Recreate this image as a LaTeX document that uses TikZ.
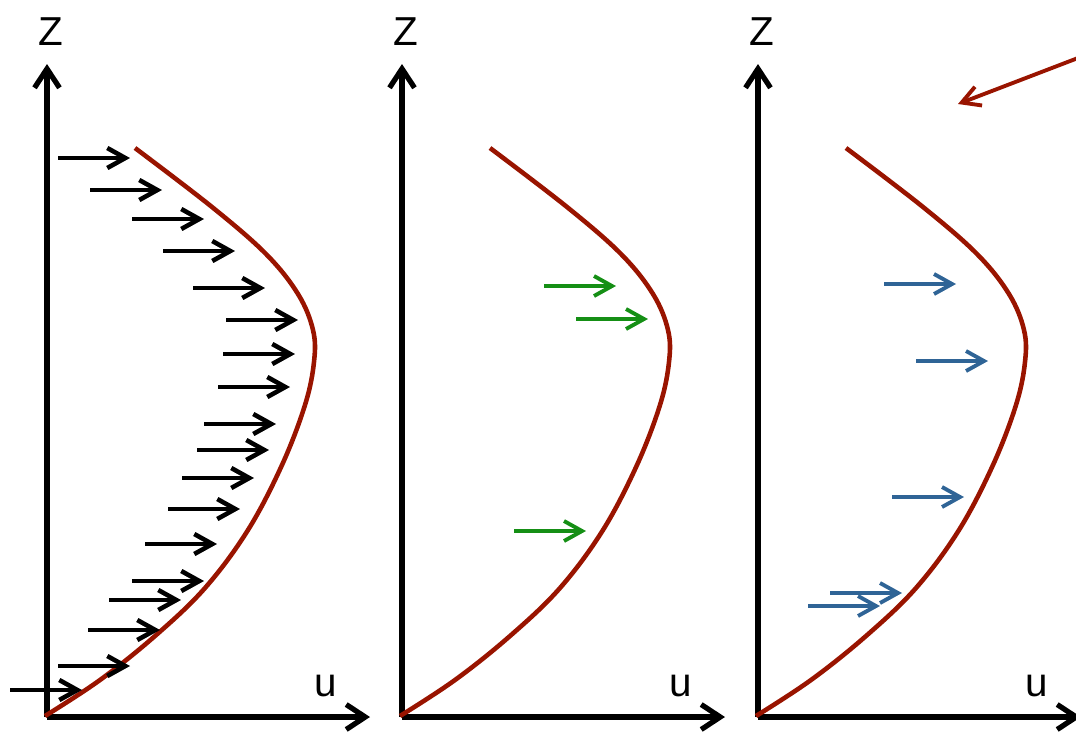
\documentclass[tikz,border=0pt]{standalone}
\usepackage{fontspec}
\setmainfont{Liberation Sans}
\usepackage{xcolor}
\usetikzlibrary{arrows.meta}
\definecolor{profile}{HTML}{991400}

\begin{document}
\begin{tikzpicture}[
    x=0.02cm, y=-0.02cm,
    axis/.style={line width=3pt, -{Straight Barb[length=3.8mm, width=5mm]}},
    curve/.style={draw=profile, line width=2.6pt},
    vel/.style={line width=2.6pt, -{Straight Barb[length=3.6mm, width=4mm]}},
    lab/.style={font=\fontsize{23}{25}\selectfont, inner sep=0pt},
  ]
  \definecolor{cGreen}{HTML}{158F15}\definecolor{cBlue}{HTML}{2F6496}
  \useasboundingbox (0,0) rectangle (1076,734);

  \foreach \i/\dx in {1/0, 2/355, 3/711} {
    \begin{scope}[shift={(\dx,0)}]
      \coordinate (o\i) at (47,717);
      \coordinate (z\i) at (47,64);
      \coordinate (u\i) at (370,717);
      \draw[axis] (o\i) -- (z\i);
      \draw[axis] (o\i) -- (u\i);
      \node[lab] (zl\i) at (51,32) {Z};
      \node[lab] (ul\i) at (326,686) {u};
      \draw[curve] plot[smooth, tension=0.6] coordinates {
        (135,148) (212,207) (266,254) (298,294) (313,330) (314,362)
        (305,405) (282,465) (248,530) (205,588) (155,636) (100,680) (45,716)};
    \end{scope}
  }

  \foreach \y/\xa in {158/58, 190/90, 219/132, 251/163, 288/193, 320/226,
                      354/223, 387/218, 424/204, 450/197, 478/182, 509/168,
                      544/145, 581/132, 600/109, 630/88, 666/58, 690/10} {
    \draw[vel] (\xa,\y) -- ++(72,0);
  }

  \foreach \y/\xa in {286/544, 319/576, 531/514} {
    \draw[vel, cGreen, line width=2.2pt] (\xa,\y) -- ++(72,0);
  }

  \foreach \y/\xa in {284/884, 361/916, 497/892, 593/830, 606/808} {
    \draw[vel, cBlue, line width=2.2pt] (\xa,\y) -- ++(72,0);
  }

  \coordinate (src) at (1078,58);
  \coordinate (dst) at (958,104);
  \draw[vel, profile, line width=2.2pt] (src) -- (dst);
\end{tikzpicture}
\end{document}
